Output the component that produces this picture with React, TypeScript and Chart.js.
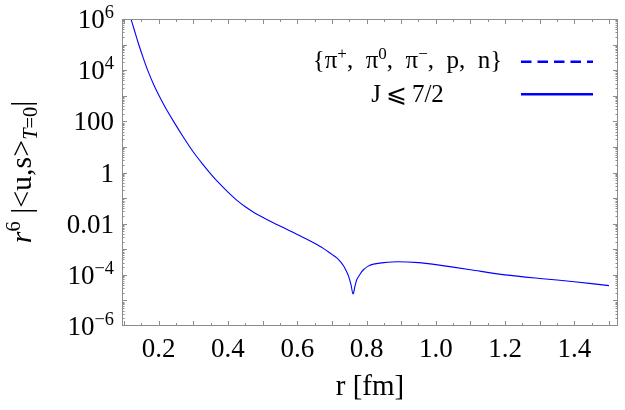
import { useEffect, useRef } from "react";
import { Chart, registerables } from "chart.js";

Chart.register(...registerables);

// Radial profile r^6 |<u,s>_{T=0}| versus r [fm]
const rValues = [
  0.118, 0.13, 0.14, 0.155, 0.168, 0.185, 0.2, 0.22, 0.245, 0.27, 0.3, 0.325,
  0.35, 0.375, 0.4, 0.425, 0.45, 0.475, 0.5, 0.525, 0.55, 0.575, 0.6, 0.625,
  0.65, 0.675, 0.7, 0.714, 0.725, 0.733, 0.742, 0.748, 0.755, 0.761, 0.767,
  0.772, 0.782, 0.791, 0.805, 0.82, 0.85, 0.89, 0.95, 1.0, 1.1, 1.2, 1.3, 1.4,
  1.5,
];
const amplitude = [
  1.23e6, 3.55e5, 1.26e5, 3.09e4, 1.0e4, 2.82e3, 1.07e3, 331, 89, 25.7, 6.3,
  2.29, 0.89, 0.372, 0.17, 0.083, 0.0457, 0.0275, 0.0178, 0.0119, 8.1e-3,
  5.56e-3, 3.8e-3, 2.57e-3, 1.7e-3, 1.08e-3, 6.3e-4, 4.6e-4, 3.24e-4, 2.3e-4,
  1.38e-4, 8.9e-5, 4.2e-5, 1.78e-5, 3.8e-5, 6.6e-5, 1.1e-4, 1.58e-4, 2.19e-4,
  2.63e-4, 3.0e-4, 3.24e-4, 3.0e-4, 2.5e-4, 1.58e-4, 1.0e-4, 7.2e-5, 5.4e-5,
  3.8e-5,
];

const xTickValues = [0.2, 0.4, 0.6, 0.8, 1.0, 1.2, 1.4];
const xTickLabels = ["0.2", "0.4", "0.6", "0.8", "1.0", "1.2", "1.4"];
const yTickValues = [1e-6, 1e-4, 1e-2, 1, 1e2, 1e4, 1e6];
const yTickLabels = ["10^−6", "10^−4", "0.01", "1", "100", "10^4", "10^6"];

type Run = { t: string; s?: "sup" | "sub"; i?: boolean };

const legendEntries: { label: Run[]; dash: number[] }[] = [
  {
    label: [
      { t: "{π" },
      { t: "+", s: "sup" },
      { t: ",  π" },
      { t: "0", s: "sup" },
      { t: ",  π" },
      { t: "−", s: "sup" },
      { t: ",  p,  n}" },
    ],
    dash: [10.5, 6],
  },
  { label: [{ t: "J\u2009⩽\u20097/2" }], dash: [] },
];

const yTitle: Run[] = [
  { t: "r", i: true },
  { t: "6", s: "sup" },
  { t: " |<u,s>" },
  { t: "T", s: "sub", i: true },
  { t: "=0", s: "sub" },
  { t: "|" },
];
const xTitle = "r [fm]";

const FAMILY = '"Liberation Serif", "Times New Roman", serif';
const CURVE = "#0000ff";
const FRAME = "#8c8c8c";

function runFont(r: Run, size: number) {
  const sz = r.s ? size * 0.68 : size;
  return `${r.i ? "italic " : ""}${sz}px ${FAMILY}`;
}

function runsWidth(ctx: CanvasRenderingContext2D, runs: Run[], size: number) {
  let w = 0;
  for (const r of runs) {
    ctx.font = runFont(r, size);
    w += ctx.measureText(r.t).width;
  }
  return w;
}

function drawRuns(
  ctx: CanvasRenderingContext2D,
  runs: Run[],
  x: number,
  y: number,
  size: number
) {
  let cx = x;
  for (const r of runs) {
    ctx.font = runFont(r, size);
    const dy = r.s === "sup" ? -size * 0.36 : r.s === "sub" ? size * 0.2 : 0;
    ctx.fillText(r.t, cx, y + dy);
    cx += ctx.measureText(r.t).width;
  }
}

function parsePower(label: string): Run[] {
  const k = label.indexOf("^");
  if (k < 0) return [{ t: label }];
  return [{ t: label.slice(0, k) }, { t: label.slice(k + 1), s: "sup" }];
}

const framePlugin = {
  id: "mathFrame",
  afterDatasetsDraw(chart: any) {
    const { ctx, chartArea } = chart;
    const xs = chart.scales.x;
    const ys = chart.scales.y;
    const { left, right, top, bottom } = chartArea;
    ctx.save();

    // frame
    ctx.strokeStyle = FRAME;
    ctx.lineWidth = 1;
    ctx.strokeRect(left + 0.5, top + 0.5, right - left - 1, bottom - top - 1);

    // x ticks (bottom and top)
    ctx.beginPath();
    for (let k = 2; k <= 30; k++) {
      const v = k * 0.05;
      const px = Math.round(xs.getPixelForValue(v)) + 0.5;
      if (px < left || px > right) continue;
      const len = k % 2 === 0 ? 5 : 3;
      ctx.moveTo(px, bottom);
      ctx.lineTo(px, bottom - len);
      ctx.moveTo(px, top);
      ctx.lineTo(px, top + len);
    }
    // y ticks (left and right), decades plus minor
    for (let e = -6; e <= 6; e++) {
      for (let m = 1; m <= 9; m++) {
        const v = m * Math.pow(10, e);
        if (v > 1e6 * 1.0001) continue;
        const py = Math.round(ys.getPixelForValue(v)) + 0.5;
        if (py < top || py > bottom) continue;
        const len = m === 1 ? 5 : 2.5;
        ctx.moveTo(left, py);
        ctx.lineTo(left + len, py);
        ctx.moveTo(right, py);
        ctx.lineTo(right - len, py);
      }
    }
    ctx.stroke();

    ctx.fillStyle = "#000";
    const TICK = 27;

    // x tick labels
    ctx.textAlign = "center";
    ctx.textBaseline = "alphabetic";
    ctx.font = `${TICK}px ${FAMILY}`;
    xTickValues.forEach((v, i) => {
      ctx.fillText(xTickLabels[i], xs.getPixelForValue(v), 357);
    });

    // y tick labels
    ctx.textAlign = "left";
    yTickValues.forEach((v, i) => {
      const runs = parsePower(yTickLabels[i]);
      const w = runsWidth(ctx, runs, TICK);
      const py = ys.getPixelForValue(v);
      drawRuns(ctx, runs, 114 - w, py + 9, TICK);
    });

    // x axis title
    ctx.textAlign = "center";
    ctx.font = `29px ${FAMILY}`;
    ctx.fillText(xTitle, (left + right) / 2, 395);

    // y axis title, rotated
    ctx.save();
    ctx.translate(31, 172);
    ctx.rotate(-Math.PI / 2);
    ctx.textAlign = "left";
    const tw = runsWidth(ctx, yTitle, 30);
    drawRuns(ctx, yTitle, -tw / 2, 0, 30);
    ctx.restore();

    // legend
    const LEG = 25;
    const legendRows = [68, 101.5];
    const lineRows = [61.7, 94.3];
    legendEntries.forEach((entry, i) => {
      ctx.textAlign = "left";
      const w = runsWidth(ctx, entry.label, LEG);
      drawRuns(ctx, entry.label, 407.5 - w / 2, legendRows[i], LEG);
      ctx.beginPath();
      ctx.setLineDash(entry.dash);
      ctx.strokeStyle = CURVE;
      ctx.lineWidth = 2.5;
      ctx.moveTo(521, lineRows[i]);
      ctx.lineTo(593, lineRows[i]);
      ctx.stroke();
      ctx.setLineDash([]);
    });

    ctx.restore();
  },
};

export default function App() {
  const canvasRef = useRef<HTMLCanvasElement | null>(null);

  useEffect(() => {
    const canvas = canvasRef.current;
    if (!canvas) return;
    const chart = new Chart(canvas, {
      type: "line",
      data: {
        datasets: [
          {
            label: "J ⩽ 7/2",
            data: rValues.map((r, i) => ({ x: r, y: amplitude[i] })),
            borderColor: CURVE,
            borderWidth: 1.1,
            pointRadius: 0,
            fill: false,
            tension: 0.3,
          },
        ],
      },
      options: {
        animation: false,
        responsive: false,
        devicePixelRatio: 1,
        layout: { padding: { left: 122, top: 19, right: 7, bottom: 84 } },
        plugins: { legend: { display: false }, tooltip: { enabled: false } },
        scales: {
          x: { type: "linear", min: 0.094, max: 1.526, display: false },
          y: { type: "logarithmic", min: 1e-6, max: 1e6, display: false },
        },
      },
      plugins: [framePlugin],
    });
    return () => chart.destroy();
  }, []);

  return (
    <div style={{ position: "fixed", left: 0, top: 0, width: 625, height: 410, background: "#fff" }}>
      <canvas ref={canvasRef} width={625} height={410} />
    </div>
  );
}
